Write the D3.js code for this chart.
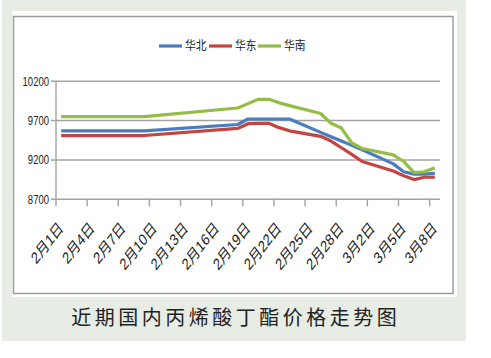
<!DOCTYPE html>
<html>
<head>
<meta charset="utf-8">
<script src="https://cdn.jsdelivr.net/npm/d3@7"></script>
<style>
body { margin: 0; background: #fff; }
svg { display: block; font-family: "Liberation Sans", Arial, "Noto Sans CJK SC", sans-serif; }
</style>
</head>
<body>
<svg id="chart" width="491" height="358"></svg>
<script>
// data (2012, so February has 29 days)
var dates = ["2012-02-01", "2012-02-09", "2012-02-18", "2012-02-19", "2012-02-20", "2012-02-21",
    "2012-02-22", "2012-02-23", "2012-02-26", "2012-02-27", "2012-02-28", "2012-02-29",
    "2012-03-01", "2012-03-04", "2012-03-05", "2012-03-06", "2012-03-07", "2012-03-08"];
var huabei = [9570, 9570, 9650, 9720, 9720, 9720, 9720, 9720, 9550, 9495, 9440, 9385, 9330, 9150, 9050, 9020, 9020, 9030];
var huadong = [9510, 9510, 9600, 9660, 9665, 9665, 9610, 9570, 9500, 9440, 9355, 9270, 9180, 9060, 9000, 8950, 8980, 8980];
var huanan = [9750, 9750, 9860, 9915, 9970, 9970, 9925, 9890, 9790, 9665, 9605, 9415, 9345, 9265, 9180, 9040, 9050, 9100];

var seriesNames = ["华北", "华东", "华南"];
var seriesColors = ["#4a7cc0", "#c4443f", "#93bd45"];
var yTicks = [8700, 9200, 9700, 10200];
var tickDates = ["2012-02-01", "2012-02-04", "2012-02-07", "2012-02-10", "2012-02-13", "2012-02-16",
    "2012-02-19", "2012-02-22", "2012-02-25", "2012-02-28", "2012-03-02", "2012-03-05", "2012-03-08"];
var title = "近期国内丙烯酸丁酯价格走势图";

var parse = d3.timeParse("%Y-%m-%d");
var fmt = d3.timeFormat("%-m月%-d日");

var svg = d3.select("#chart");

// outer panel and white chart box
svg.append("rect").attr("x", 2).attr("y", 0).attr("width", 464).attr("height", 341).attr("fill", "#e7ece5");
svg.append("rect").attr("x", 12).attr("y", 11).attr("width", 445).attr("height", 286).attr("fill", "#fff");
svg.append("rect").attr("x", 13.5).attr("y", 16.5).attr("width", 439.5).attr("height", 277)
    .attr("fill", "none").attr("stroke", "#9c9c9c").attr("stroke-width", 1.5);

var x = d3.scaleTime()
    .domain([parse("2012-02-01"), parse("2012-03-09")])
    .range([56, 440]);
var y = d3.scaleLinear().domain([8700, 10200]).range([199.3, 81.2]);

function px(ds) {
    return x(d3.timeHour.offset(parse(ds), 12));
}

// grid
var g = svg.append("g");
g.selectAll(".grid").data(yTicks).enter().append("line")
    .attr("x1", 51).attr("x2", 440)
    .attr("y1", function(d) { return y(d); })
    .attr("y2", function(d) { return y(d); })
    .attr("stroke", "#a3a3a3").attr("stroke-width", 1.4);

g.append("line").attr("x1", 56).attr("x2", 56).attr("y1", y(10200)).attr("y2", y(8700))
    .attr("stroke", "#a3a3a3").attr("stroke-width", 1.4);

g.selectAll(".xt").data(tickDates).enter().append("line")
    .attr("x1", function(d) { return x(parse(d)); })
    .attr("x2", function(d) { return x(parse(d)); })
    .attr("y1", y(8700)).attr("y2", y(8700) + 7)
    .attr("stroke", "#a3a3a3").attr("stroke-width", 1.4);

// y labels (narrow, as in the picture)
g.selectAll(".yl").data(yTicks).enter().append("text")
    .attr("transform", function(d) { return "translate(49," + y(d) + ") scale(0.76,1)"; })
    .attr("dy", "0.36em")
    .attr("text-anchor", "end")
    .attr("font-size", 12.5)
    .attr("fill", "#222")
    .text(function(d) { return d; });

// x labels, rotated
g.selectAll(".xl").data(tickDates).enter().append("text")
    .attr("transform", function(d) {
        return "translate(" + (x(parse(d)) + 8) + ",229) scale(1.05,1.35) rotate(-45)";
    })
    .attr("text-anchor", "end")
    .attr("font-size", 12)
    .attr("fill", "#222")
    .text(function(d) { return fmt(parse(d)); });

// lines
var allSeries = [huabei, huadong, huanan];
var line = d3.line()
    .x(function(d, i) { return px(dates[i]); })
    .y(function(d) { return y(d); });

svg.append("g").selectAll("path").data(allSeries).enter().append("path")
    .attr("d", line)
    .attr("fill", "none")
    .attr("stroke", function(d, i) { return seriesColors[i]; })
    .attr("stroke-width", 3.2)
    .attr("stroke-linejoin", "round");

// legend
var legX = [159, 209, 258];
var leg = svg.append("g").selectAll("g").data(seriesNames).enter().append("g")
    .attr("transform", function(d, i) { return "translate(" + legX[i] + ",46)"; });
leg.append("line").attr("x1", 0).attr("x2", 23).attr("y1", 0).attr("y2", 0)
    .attr("stroke", function(d, i) { return seriesColors[i]; })
    .attr("stroke-width", 3.2);
leg.append("text")
    .attr("transform", "translate(26,0) scale(0.9,1)")
    .attr("dy", "0.36em")
    .attr("font-size", 12)
    .attr("font-family", "Noto Sans CJK SC")
    .attr("fill", "#222")
    .text(function(d) { return d; });

// caption
svg.append("text")
    .attr("x", 234 + 1.75).attr("y", 325)
    .attr("text-anchor", "middle")
    .attr("font-size", 20)
    .attr("letter-spacing", 3.5)
    .attr("font-family", "Noto Sans CJK SC")
    .attr("fill", "#222")
    .text(title);
</script>
</body>
</html>
